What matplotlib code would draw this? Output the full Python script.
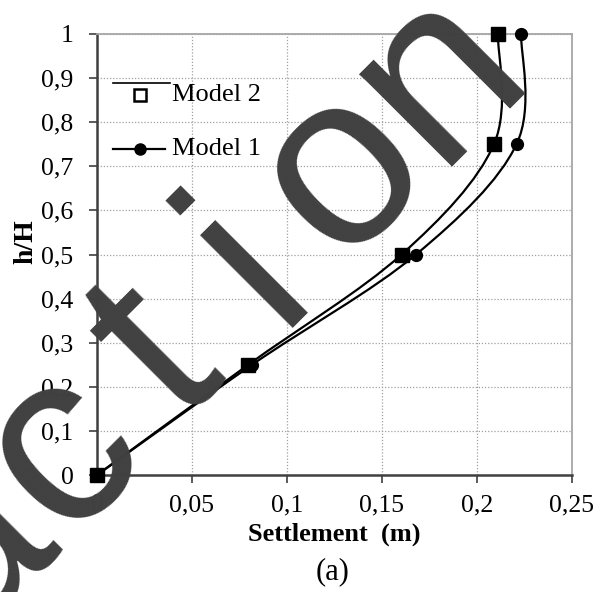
import numpy as np
import matplotlib.pyplot as plt
from matplotlib.path import Path
from matplotlib.patches import PathPatch

# values
h_ratio = [0, 0.25, 0.5, 0.75, 1.0]
settle_model2 = [0, 0.0796, 0.1603, 0.2089, 0.2110]
settle_model1 = [0, 0.0816, 0.1679, 0.2208, 0.2232]
x_ticks = [0, 0.05, 0.1, 0.15, 0.2, 0.25]
y_ticks = [0, 0.1, 0.2, 0.3, 0.4, 0.5, 0.6, 0.7, 0.8, 0.9, 1.0]
x_labels = ['0', '0,05', '0,1', '0,15', '0,2', '0,25']
y_labels = ['0', '0,1', '0,2', '0,3', '0,4', '0,5', '0,6', '0,7', '0,8', '0,9', '1']

serif = ['Liberation Serif', 'DejaVu Serif']


def smooth_path(xs, ys):
    # excel style smoothed line: bezier segments through the points
    pts = list(zip(xs, ys))
    n = len(pts)
    verts = [pts[0]]
    codes = [Path.MOVETO]
    for i in range(n - 1):
        p0 = pts[max(i - 1, 0)]
        p1 = pts[i]
        p2 = pts[i + 1]
        p3 = pts[min(i + 2, n - 1)]
        c1 = (p1[0] + (p2[0] - p0[0]) / 6, p1[1] + (p2[1] - p0[1]) / 6)
        c2 = (p2[0] - (p3[0] - p1[0]) / 6, p2[1] - (p3[1] - p1[1]) / 6)
        verts += [c1, c2, p2]
        codes += [Path.CURVE4] * 3
    return Path(verts, codes)


fig = plt.figure(figsize=(6.04, 5.92), dpi=100)
ax = fig.add_axes([97 / 604, 1 - 475 / 592, 475 / 604, 441 / 592])

for xs, mk, ms in [(settle_model1, 'o', 8.5), (settle_model2, 's', 9.5)]:
    ax.add_patch(PathPatch(smooth_path(xs, h_ratio), facecolor='none',
                           edgecolor='black', lw=1.6, zorder=3))
    ax.plot(xs, h_ratio, linestyle='none', marker=mk, ms=ms, color='black',
            zorder=4, clip_on=False)

ax.set_xlim(0, 0.25)
ax.set_ylim(0, 1)
ax.set_xticks(x_ticks)
ax.set_yticks(y_ticks)
ax.set_xticklabels(x_labels, fontfamily=serif, fontsize=18.5)
ax.set_yticklabels(y_labels, fontfamily=serif, fontsize=18.5)
ax.tick_params(axis='both', direction='out', length=6, width=1.2,
               color='#404040')
ax.tick_params(axis='x', pad=8)
ax.tick_params(axis='y', pad=11)
ax.grid(True, linestyle=(0, (1, 1.5)), color='#a0a0a0', lw=0.9)
ax.set_axisbelow(True)
for s in ['left', 'bottom']:
    ax.spines[s].set_color('#404040')
    ax.spines[s].set_linewidth(1.8)
for s in ['top', 'right']:
    ax.spines[s].set_color('#a6a6a6')
    ax.spines[s].set_linewidth(1.3)

ax.set_xlabel('Settlement  (m)', fontfamily=serif, fontsize=19,
              fontweight='bold')
ax.xaxis.set_label_coords(0.5, -0.108)
ax.set_ylabel('h/H', fontfamily=serif, fontsize=20, fontweight='bold')
ax.yaxis.set_label_coords(-0.124, 0.53)
fig.text(333 / 604, 1 - 572 / 592, '(a)', fontfamily=serif, fontsize=22,
         ha='center', va='center')

# legend drawn by hand (excel layout)
tr = ax.transAxes
lx0, lx1, lxm = (113 - 97) / 475, (170 - 97) / 475, (140 - 97) / 475
y2, y2l, y1 = (475 - 95) / 441, (475 - 83) / 441, (475 - 149) / 441
ax.plot([lx0, lx1], [y2l, y2l], color='black', lw=1.2, transform=tr)
ax.plot([lxm], [y2], marker='s', ms=8, mfc='white', mec='black', mew=1.8,
        transform=tr)
ax.plot([lx0, (165 - 97) / 475], [y1, y1], color='black', lw=1.6, transform=tr)
ax.plot([lxm], [y1], marker='o', ms=8, color='black', transform=tr)
tx = (172 - 97) / 475
ax.text(tx, y2, 'Model 2', fontfamily=serif, fontsize=19, va='center',
        transform=tr)
ax.text(tx, y1, 'Model 1', fontfamily=serif, fontsize=19, va='center',
        transform=tr)

# watermark over the chart, letters spaced along a 45 degree baseline
wm_letters = ['a', 'c', 't', 'i', 'o', 'n']
wm_offsets = [-409, -274, -139, -9.5, 122, 258]
for ch, p in zip(wm_letters, wm_offsets):
    px = (603 + p * np.sqrt(2)) / 2
    py = (603 - p * np.sqrt(2)) / 2
    fig.text(px / 604, 1 - py / 592, ch, fontfamily='Liberation Sans',
             fontsize=177, color='#404040', rotation=45,
             rotation_mode='anchor', ha='center', va='baseline', zorder=10)

fig.savefig('out.png', dpi=100)
